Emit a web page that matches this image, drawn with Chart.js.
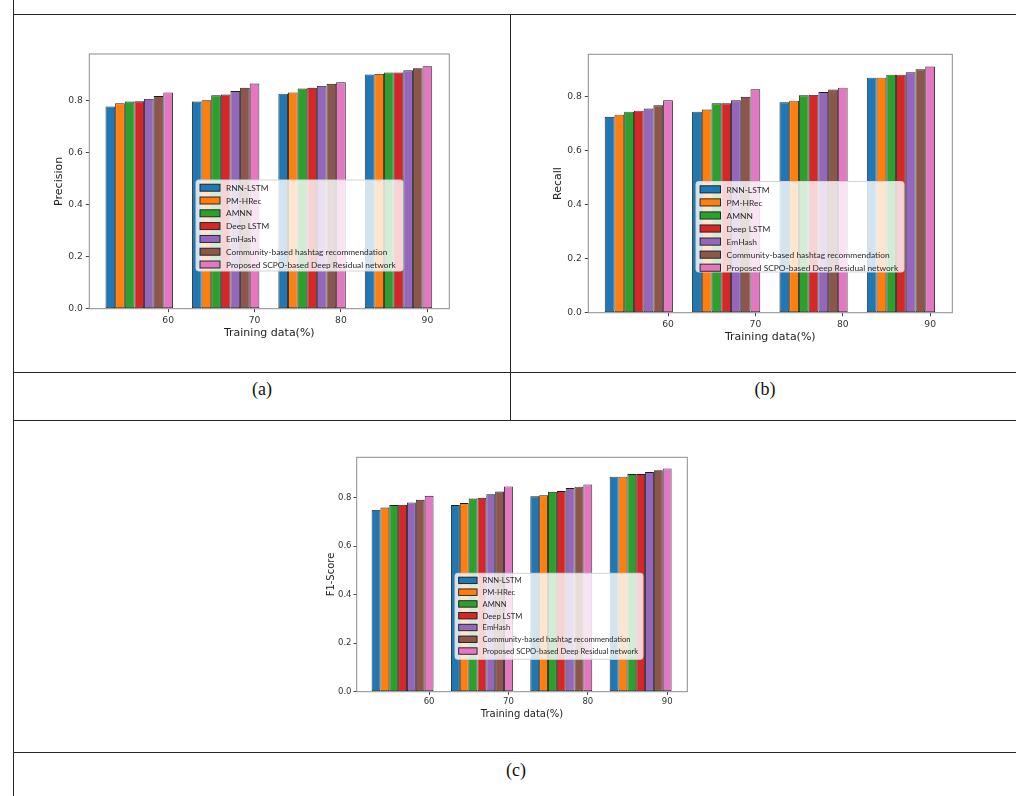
<!DOCTYPE html>
<html>
<head>
<meta charset="utf-8">
<title>Precision, Recall and F1-Score versus training data</title>
<script src="https://cdn.jsdelivr.net/npm/chart.js@4.4.1/dist/chart.umd.min.js"></script>
<style>
  html, body { margin: 0; padding: 0; background: #fff; }
  body { position: relative; width: 1016px; height: 796px; overflow: hidden; }
  .ln { position: absolute; background: #262626; }
  .cap { position: absolute; text-align: center; font-family: "Liberation Serif", "DejaVu Serif", serif;
         font-size: 18px; line-height: 20px; color: #111; }
  canvas { position: absolute; }
</style>
</head>
<body>
  <!-- table rules -->
  <div class="ln" style="left:13px; top:0; width:1px; height:796px;"></div>
  <div class="ln" style="left:13px; top:14px; width:1003px; height:1px;"></div>
  <div class="ln" style="left:510px; top:14px; width:1px; height:406px;"></div>
  <div class="ln" style="left:13px; top:372px; width:1003px; height:1px;"></div>
  <div class="ln" style="left:13px; top:420px; width:1003px; height:1px;"></div>
  <div class="ln" style="left:13px; top:752px; width:1003px; height:1px;"></div>

  <canvas id="chartPrecision" width="420" height="310" style="left:40px; top:40px;"></canvas>
  <canvas id="chartRecall" width="440" height="310" style="left:540px; top:40px;"></canvas>
  <canvas id="chartF1" width="380" height="280" style="left:320px; top:450px;"></canvas>

  <div class="cap" style="left:14px; width:496px; top:379px;">(a)</div>
  <div class="cap" style="left:511px; width:508px; top:379px;">(b)</div>
  <div class="cap" style="left:14px; width:1004px; top:760px;">(c)</div>

<script>
// ---- data ----
const trainingData = ['60', '70', '80', '90'];

const methods = [
  'RNN-LSTM',
  'PM-HRec',
  'AMNN',
  'Deep LSTM',
  'EmHash',
  'Community-based hashtag recommendation',
  'Proposed SCPO-based Deep Residual network'
];

const methodColors = ['#1f77b4', '#ff7f0e', '#2ca02c', '#d62728', '#9467bd', '#8c564b', '#e377c2'];

// one row per method, one column per training-data share
const precisionValues = [
  [0.777, 0.796, 0.826, 0.900],
  [0.789, 0.801, 0.831, 0.902],
  [0.796, 0.820, 0.846, 0.908],
  [0.797, 0.823, 0.849, 0.908],
  [0.806, 0.836, 0.856, 0.916],
  [0.817, 0.849, 0.864, 0.924],
  [0.831, 0.865, 0.870, 0.932]
];

const recallValues = [
  [0.725, 0.744, 0.779, 0.870],
  [0.733, 0.752, 0.785, 0.870],
  [0.744, 0.775, 0.805, 0.881],
  [0.748, 0.775, 0.806, 0.881],
  [0.756, 0.786, 0.817, 0.890],
  [0.768, 0.799, 0.826, 0.901],
  [0.786, 0.827, 0.833, 0.911]
];

const f1Values = [
  [0.750, 0.770, 0.806, 0.887],
  [0.760, 0.778, 0.810, 0.887],
  [0.770, 0.797, 0.825, 0.898],
  [0.771, 0.800, 0.828, 0.898],
  [0.781, 0.815, 0.840, 0.906],
  [0.792, 0.826, 0.846, 0.914],
  [0.808, 0.847, 0.855, 0.921]
];

const yTickLabels = ['0.0', '0.2', '0.4', '0.6', '0.8'];

// ---- layout ----
const GROUP_SHARE = 0.78;                 // share of a category slot used by its bar group
const TICK_SHIFT = 3 * GROUP_SHARE / 7;   // tick sits under the last bar of each group
const X_MIN = -0.578, X_MAX = 3.588;
const TEXT_COLOR = '#333';
const FRAME_COLOR = '#8c8c8c';

// spines on all four sides plus an in-axes legend
const frameLegendPlugin = {
  id: 'frameLegend',
  afterDatasetsDraw(chart, args, opts) {
    const { ctx, chartArea: a } = chart;
    ctx.save();
    ctx.strokeStyle = FRAME_COLOR;
    ctx.lineWidth = 1;
    ctx.strokeRect(a.left, a.top, a.right - a.left, a.bottom - a.top);

    const s = opts.scale;
    const bx = opts.x, by = opts.y, bw = opts.w, bh = opts.h;
    // legend panel
    ctx.beginPath();
    const r = 2.5;
    ctx.moveTo(bx + r, by);
    ctx.arcTo(bx + bw, by, bx + bw, by + bh, r);
    ctx.arcTo(bx + bw, by + bh, bx, by + bh, r);
    ctx.arcTo(bx, by + bh, bx, by, r);
    ctx.arcTo(bx, by, bx + bw, by, r);
    ctx.closePath();
    ctx.fillStyle = 'rgba(255,255,255,0.8)';
    ctx.fill();
    ctx.strokeStyle = '#d4d4d4';
    ctx.lineWidth = 1;
    ctx.stroke();

    // fit label font to the panel
    const family = 'Lato, "Open Sans", sans-serif';
    ctx.font = '10px ' + family;
    let widest = 0;
    chart.data.datasets.forEach(d => { widest = Math.max(widest, ctx.measureText(d.label).width); });
    const fontSize = 10 * opts.textWidth / widest;
    ctx.font = fontSize + 'px ' + family;
    ctx.textBaseline = 'middle';
    ctx.textAlign = 'left';

    chart.data.datasets.forEach((d, i) => {
      const cy = by + 7.7 * s + i * 12.8 * s;
      const px = bx + 4 * s, pw = 20 * s, ph = 7 * s;
      ctx.fillStyle = d.backgroundColor;
      ctx.fillRect(px, cy - ph / 2, pw, ph);
      ctx.strokeStyle = '#1a1a1a';
      ctx.lineWidth = 0.9;
      ctx.strokeRect(px, cy - ph / 2, pw, ph);
      ctx.fillStyle = '#2a2a2a';
      ctx.fillText(d.label, bx + 30 * s, cy + 0.5);
    });
    ctx.restore();
  }
};

function buildChart(spec) {
  const [cl, ct, cw, ch] = spec.canvas;
  const [fl, ft, fr, fb] = spec.frame;
  const titleLine = spec.titleFont * 1.2;

  const yAxisLeft = spec.yTitleX - titleLine / 2;
  const yAxisWidth = fl - yAxisLeft;
  const xAxisBottom = spec.xTitleY + titleLine / 2;
  const xAxisHeight = xAxisBottom - fb;

  const yMax = Math.max(...spec.values.flat()) * 1.05;

  const datasets = methods.map((m, k) => ({
    label: m,
    data: spec.values[k].map((v, i) => ({ x: i, y: v })),
    backgroundColor: methodColors[k],
    borderColor: '#1c1c1c',
    borderWidth: 0.9,
    borderSkipped: false,
    categoryPercentage: GROUP_SHARE,
    barPercentage: 1
  }));

  const tickFont = { family: '"DejaVu Sans", sans-serif', size: spec.tickFont };
  const titleFont = { family: '"DejaVu Sans", sans-serif', size: spec.titleFont };

  return new Chart(document.getElementById(spec.id), {
    type: 'bar',
    data: { datasets },
    options: {
      responsive: false,
      maintainAspectRatio: false,
      animation: false,
      events: [],
      layout: {
        padding: {
          left: yAxisLeft - cl,
          top: ft - ct,
          right: cl + cw - fr,
          bottom: ct + ch - xAxisBottom
        }
      },
      plugins: {
        legend: { display: false },
        tooltip: { enabled: false },
        frameLegend: {
          x: spec.legend[0] - cl, y: spec.legend[1] - ct,
          w: spec.legend[2], h: spec.legend[3],
          scale: spec.legendScale, textWidth: spec.legendText
        }
      },
      scales: {
        x: {
          type: 'linear',
          min: X_MIN,
          max: X_MAX,
          offset: false,
          grid: { drawOnChartArea: false, drawTicks: true, tickLength: spec.tickLen, color: '#444', offset: false },
          border: { display: false },
          afterBuildTicks: axis => {
            axis.ticks = trainingData.map((_, i) => ({ value: i + TICK_SHIFT }));
          },
          ticks: {
            autoSkip: false, maxRotation: 0, padding: spec.tickPad,
            color: TEXT_COLOR, font: tickFont,
            callback: (v, i) => trainingData[i]
          },
          title: { display: true, text: 'Training data(%)', color: '#222', font: titleFont, padding: 0 },
          afterFit: axis => { axis.height = xAxisHeight; }
        },
        y: {
          type: 'linear',
          min: 0,
          max: yMax,
          grid: { drawOnChartArea: false, drawTicks: true, tickLength: spec.tickLen, color: '#444' },
          border: { display: false },
          ticks: {
            stepSize: 0.2, includeBounds: false, padding: spec.tickPad,
            color: TEXT_COLOR, font: tickFont,
            callback: (v, i) => yTickLabels[i]
          },
          title: { display: true, text: spec.yTitle, color: '#222', font: titleFont, padding: 0 },
          afterFit: axis => { axis.width = yAxisWidth; }
        }
      }
    },
    plugins: [frameLegendPlugin]
  });
}

buildChart({
  id: 'chartPrecision', values: precisionValues, yTitle: 'Precision',
  canvas: [40, 40, 420, 310], frame: [89.3, 54, 449.3, 308.7],
  yTitleX: 59.3, xTitleY: 333.3, tickFont: 9.2, titleFont: 11, tickLen: 3.5, tickPad: 3,
  legend: [196, 180, 207, 91], legendScale: 1, legendText: 170
});

buildChart({
  id: 'chartRecall', values: recallValues, yTitle: 'Recall',
  canvas: [540, 40, 440, 310], frame: [588.3, 54.3, 952.3, 312.7],
  yTitleX: 558.3, xTitleY: 336.7, tickFont: 9.2, titleFont: 11, tickLen: 3.5, tickPad: 3,
  legend: [696, 181.5, 208, 90.5], legendScale: 1.02, legendText: 172
});

buildChart({
  id: 'chartF1', values: f1Values, yTitle: 'F1-Score',
  canvas: [320, 450, 380, 280], frame: [356.7, 457.3, 687.3, 691.7],
  yTitleX: 331.7, xTitleY: 714, tickFont: 8.5, titleFont: 10, tickLen: 3.2, tickPad: 2,
  legend: [455, 573.3, 188, 86], legendScale: 0.92, legendText: 156
});
</script>
</body>
</html>
